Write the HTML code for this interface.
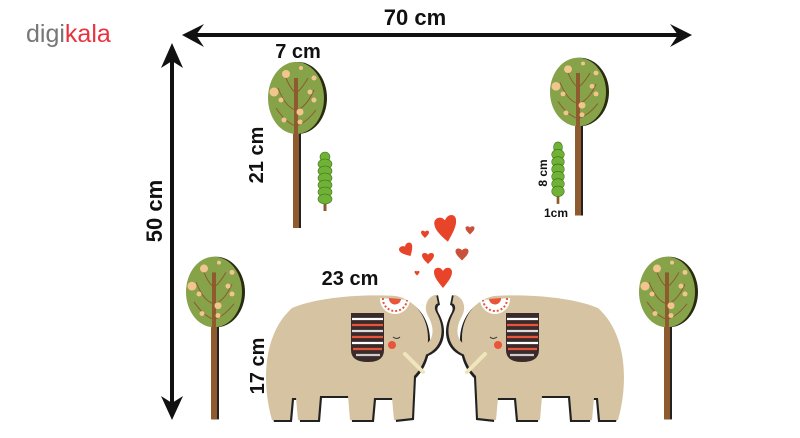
<!DOCTYPE html>
<html><head><meta charset="utf-8"><style>
html,body{margin:0;padding:0;background:#fff;width:800px;height:438px;overflow:hidden}
svg{display:block}
text{font-family:"Liberation Sans",sans-serif;font-weight:bold;fill:#111}
</style></head><body>
<svg width="800" height="438" viewBox="0 0 800 438" xmlns="http://www.w3.org/2000/svg">
<defs>
<path id="h" d="M0,1 C-0.6,0.4 -1,0 -1,-0.45 C-1,-0.9 -0.3,-1 0,-0.55 C0.3,-1 1,-0.9 1,-0.45 C1,0 0.6,0.4 0,1Z"/>
<g id="tree">
  <rect x="-2" y="-10" width="7" height="140" fill="#222"/>
  <rect x="-3" y="-10" width="6" height="140" fill="#8e5a2e"/>
  <ellipse cx="2" cy="0" rx="29" ry="36" fill="#2a2a10"/>
  <ellipse cx="0" cy="0" rx="28" ry="36" fill="#86a34a"/>
  <rect x="-2" y="-20" width="4" height="60" fill="#8e5a2e"/>
  <path d="M-18,-10 Q-10,10 0,12 M18,-8 Q10,10 0,12 M-20,10 Q-10,25 0,28 M20,12 Q10,25 0,28 M-10,-20 Q-5,-8 0,-5 M12,-20 Q5,-8 0,-5" stroke="#8e5a2e" stroke-width="1" fill="none"/>
  <g fill="#f3c58e"><circle cx="-10" cy="-24" r="4"/><circle cx="-22" cy="-6" r="4.5"/><circle cx="-15" cy="2" r="2.5"/><circle cx="14" cy="-6" r="2.5"/><circle cx="18" cy="-20" r="2.5"/><circle cx="4" cy="14" r="3.5"/><circle cx="-12" cy="22" r="2.5"/><circle cx="4" cy="24" r="2.5"/><circle cx="18" cy="2" r="2.5"/><circle cx="5" cy="-30" r="2"/></g>
</g>
<g id="plant">
  <rect x="-1.5" y="0" width="3" height="58" fill="#8e5a2e"/>
  <g fill="#6fb235" stroke="#3d6e1a" stroke-width="0.6">
   <ellipse cx="0" cy="4" rx="5" ry="5"/><ellipse cx="0" cy="11" rx="7" ry="5"/><ellipse cx="0" cy="18" rx="7" ry="5"/><ellipse cx="0" cy="25" rx="7" ry="5"/><ellipse cx="0" cy="32" rx="7" ry="5"/><ellipse cx="0" cy="39" rx="7" ry="5"/><ellipse cx="0" cy="46" rx="7" ry="5"/>
  </g>
</g>
<path id="body" d="M272,420 C262,385 262,335 292,308 C320,296 370,294 396,296 C416,300 428,318 428,338 C428,356 422,368 414,376 L412,418 L394,420 L392,398 L374,398 L372,420 L350,420 L348,396 L320,396 L318,420 L298,420 L296,398 L292,398 L290,420 Z"/>
<path id="trunk" d="M420,352 C440,346 440,328 432,314 C428,306 432,300 437,299"/>
<g id="eleph">
  <use href="#body" fill="#222" transform="translate(2,2)"/>
  <use href="#trunk" stroke="#222" stroke-width="10" fill="none" transform="translate(2,1)"/>
  <use href="#trunk" stroke="#d6c3a1" stroke-width="9" fill="none"/>
  <use href="#body" fill="#d6c3a1"/>
  <path d="M380,298 A15,15 0 0 0 410,300 Z" fill="#fff"/>
  <path d="M383,298 A12,12 0 0 0 407,300" stroke="#e8553a" stroke-width="2" fill="none" stroke-dasharray="2 2"/>
  <path d="M389,298 A6,6 0 0 0 401,299 Z" fill="#e8553a"/>
  <path d="M351,313 L384,313 L384,350 Q384,362 368,362 Q351,362 351,350 Z" fill="#3a2a2a"/>
  <g stroke-width="2.2"><line x1="352" y1="319" x2="383" y2="319" stroke="#fff"/><line x1="352" y1="325" x2="383" y2="325" stroke="#e8553a"/><line x1="352" y1="331" x2="383" y2="331" stroke="#ddd"/><line x1="352" y1="337" x2="383" y2="337" stroke="#e8553a"/><line x1="352" y1="343" x2="383" y2="343" stroke="#fff"/><line x1="353" y1="349" x2="382" y2="349" stroke="#e8553a"/><line x1="356" y1="355" x2="380" y2="355" stroke="#ccc"/></g>
  <circle cx="392" cy="345" r="4" fill="#e8553a"/>
  <path d="M393,337 q4,3 7,0" stroke="#333" fill="none" stroke-width="1"/>
  <line x1="405" y1="354" x2="423" y2="372" stroke="#efe6bb" stroke-width="4" stroke-linecap="round"/>
</g>
</defs>

<text x="26" y="42" font-size="25" style="font-weight:normal;fill:#777">digi<tspan style="fill:#e8333f">kala</tspan></text>

<line x1="186" y1="35" x2="686" y2="35" stroke="#111" stroke-width="4"/>
<path d="M182,35 L204,24 L196,35 L204,47 Z" fill="#111"/>
<path d="M692,35 L670,24 L678,35 L670,47 Z" fill="#111"/>
<text x="415" y="25" font-size="22" text-anchor="middle">70 cm</text>
<line x1="172" y1="48" x2="172" y2="410" stroke="#111" stroke-width="4"/>
<path d="M172,43 L161,68 L172,61 L183,68 Z" fill="#111"/>
<path d="M172,420 L161,396 L172,403 L183,396 Z" fill="#111"/>
<text transform="translate(162,211) rotate(-90)" font-size="22" text-anchor="middle">50 cm</text>

<text x="298" y="58" font-size="20" text-anchor="middle">7 cm</text>
<text transform="translate(263,155) rotate(-90)" font-size="20" text-anchor="middle">21 cm</text>
<text x="350" y="285" font-size="20" text-anchor="middle">23 cm</text>
<text transform="translate(264,366) rotate(-90)" font-size="20" text-anchor="middle">17 cm</text>
<text transform="translate(547,173) rotate(-90)" font-size="12" text-anchor="middle">8 cm</text>
<text x="556" y="217" font-size="12" text-anchor="middle">1cm</text>

<use href="#tree" transform="translate(296,98)"/>
<use href="#tree" transform="translate(578,92) scale(1,0.95)"/>
<use href="#tree" transform="translate(214,292) scale(1,0.98)"/>
<use href="#tree" transform="translate(667,292) scale(1,0.98)"/>
<use href="#plant" transform="translate(325,153)"/>
<use href="#plant" transform="translate(558,143) scale(0.9,1.05)"/>

<g fill="#e8442a">
<use href="#h" transform="translate(446,228) scale(11,14) rotate(-10)"/>
<use href="#h" transform="translate(425,234) scale(4)"/>
<use href="#h" transform="translate(470,230) scale(4.5)" fill="#c9503a"/>
<use href="#h" transform="translate(407,250) scale(7) rotate(-30)"/>
<use href="#h" transform="translate(428,258) scale(6)"/>
<use href="#h" transform="translate(462,254) scale(6.5)" fill="#c9503a"/>
<use href="#h" transform="translate(417,273) scale(2.5)"/>
<use href="#h" transform="translate(443,277) scale(9,11)"/>
</g>

<use href="#eleph"/>
<use href="#eleph" transform="translate(890,0) scale(-1,1)"/>
</svg>
</body></html>
